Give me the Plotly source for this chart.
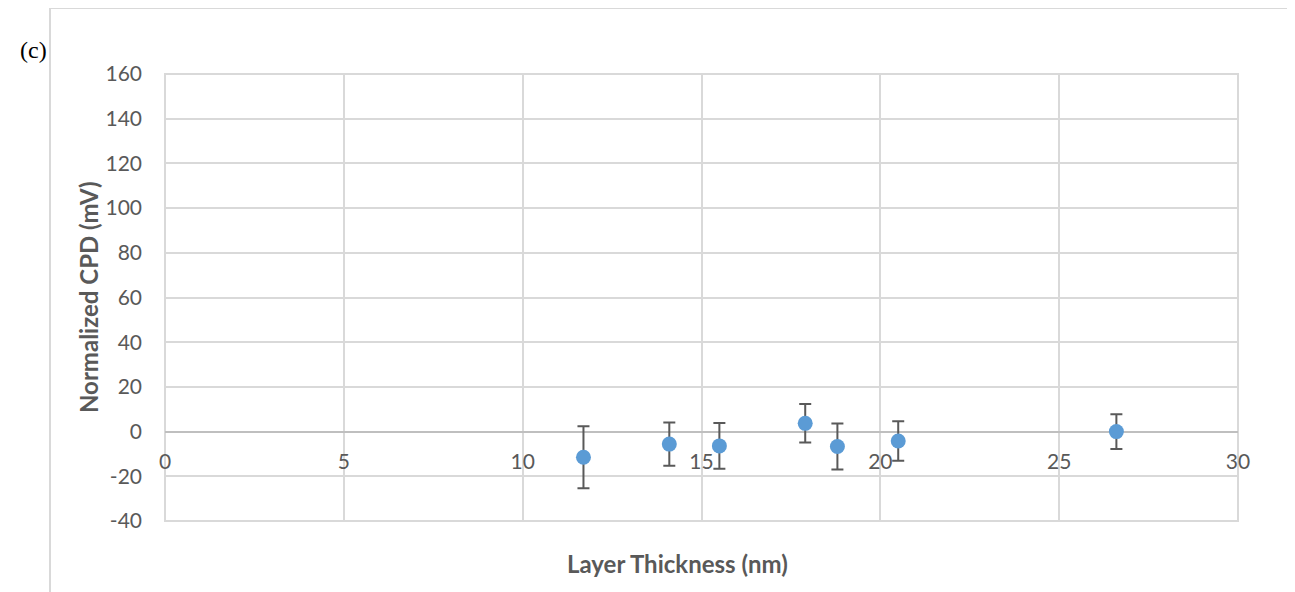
import plotly.graph_objects as go

thickness = [11.7, 14.1, 15.5, 17.9, 18.8, 20.5, 26.6]
cpd = [-11.5, -5.6, -6.4, 3.7, -6.7, -4.2, 0.0]
cpd_err = [13.9, 9.7, 10.2, 8.6, 10.3, 8.8, 7.8]

x_ticks = [0, 5, 10, 15, 20, 25, 30]
y_ticks = [-40, -20, 0, 20, 40, 60, 80, 100, 120, 140, 160]
y_tick_text = ["-40", "-20", "0", "20", "40", "60", "80", "100", "120", "140", "160"]

OFF = 8  # page body margin
W, H = 1295 - OFF, 592 - OFF
L, R, T, B = 165 - OFF, 57, 74 - OFF, 71
pw, ph = W - L - R, H - T - B

def px(x):
    return (x - OFF - L) / pw

def py(y):
    return (H - B - (y - OFF)) / ph

grid = "#d9d9d9"
txt = "#595959"
font = "Lato, 'Open Sans', sans-serif"

fig = go.Figure()
fig.add_trace(go.Scatter(
    x=thickness, y=cpd, mode="markers",
    marker=dict(size=15, color="#5b9bd5"),
    error_y=dict(type="data", array=cpd_err, visible=True,
                 color="#595959", thickness=2, width=6),
    showlegend=False,
))

fig.update_layout(
    width=W, height=H,
    margin=dict(l=L, r=R, t=T, b=B),
    plot_bgcolor="white", paper_bgcolor="white",
    font=dict(family=font, color=txt, size=21),
    xaxis=dict(
        range=[0, 30], tickvals=x_ticks, showgrid=True, gridcolor=grid,
        gridwidth=1.5, zeroline=False, showline=False,
        anchor="free", position=0.2, ticks="", ticklabelstandoff=15,
        tickfont=dict(size=21, color=txt),
    ),
    yaxis=dict(
        range=[-40, 160], tickvals=y_ticks, ticktext=y_tick_text,
        showgrid=True, gridcolor=grid,
        gridwidth=1.5, zeroline=True, zerolinecolor="#bfbfbf", zerolinewidth=2,
        showline=False, ticks="", ticklabelstandoff=22,
        tickfont=dict(size=21, color=txt),
    ),
    shapes=[
        dict(type="rect", xref="paper", yref="paper", x0=0, x1=1, y0=0, y1=1,
             line=dict(color=grid, width=2), layer="below"),
        dict(type="line", xref="paper", yref="paper",
             x0=px(50), x1=px(1300), y0=py(8), y1=py(8),
             line=dict(color=grid, width=2)),
        dict(type="line", xref="paper", yref="paper",
             x0=px(50), x1=px(50), y0=py(8), y1=py(600),
             line=dict(color=grid, width=2)),
    ],
    annotations=[
        dict(text="(c)", xref="paper", yref="paper", x=px(33), y=py(50),
             showarrow=False, font=dict(family="Liberation Serif, serif", size=24, color="black"),
             xanchor="center", yanchor="middle"),
        dict(text="<b>Layer Thickness (nm)</b>", xref="paper", yref="paper",
             x=px(677), y=py(563), showarrow=False, font=dict(size=24, color=txt),
             xanchor="center", yanchor="middle"),
        dict(text="<b>Normalized CPD (mV)</b>", xref="paper", yref="paper",
             x=px(88), y=py(297), showarrow=False, textangle=-90,
             font=dict(size=24, color=txt), xanchor="center", yanchor="middle"),
    ],
)

fig.write_html("out.html")
